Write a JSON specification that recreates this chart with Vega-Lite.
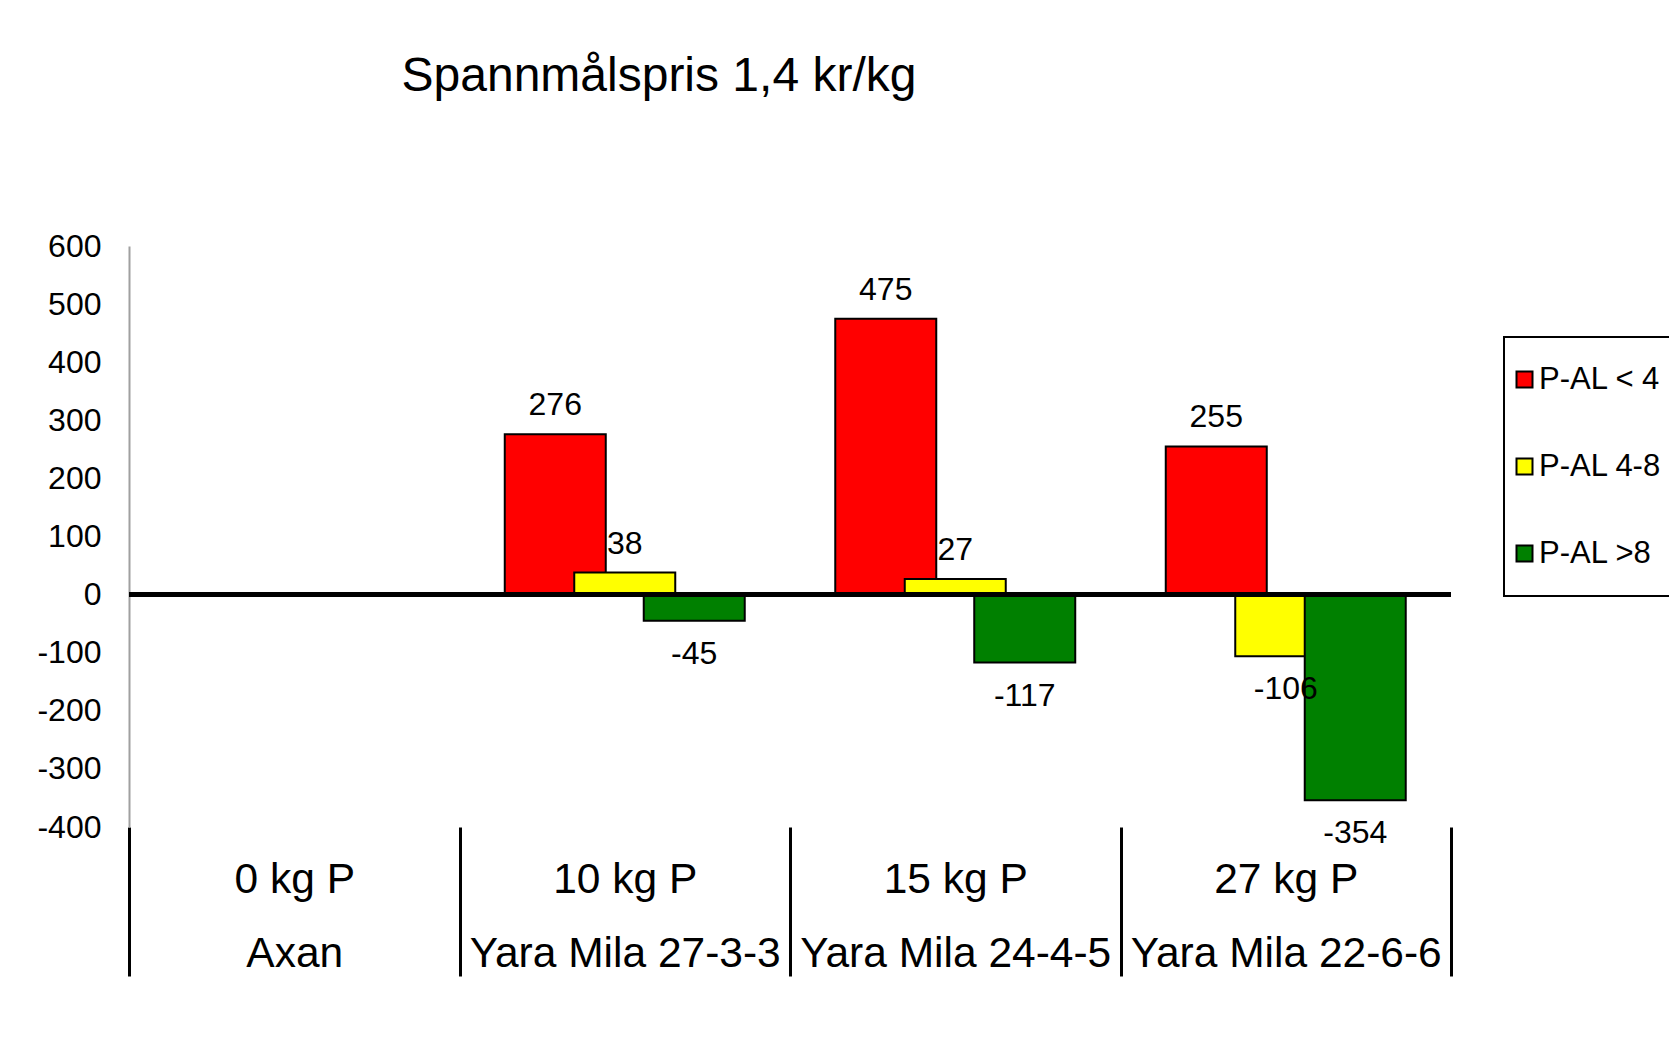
{
  "$schema": "https://vega.github.io/schema/vega-lite/v6.json",
  "width": 1322,
  "height": 581,
  "autosize": "none",
  "padding": {"left": 129, "top": 246, "right": 218, "bottom": 232},
  "background": "white",
  "title": {"text": "Spannmålspris 1,4 kr/kg", "font": "Liberation Sans", "fontSize": 48, "fontWeight": "normal", "color": "black", "anchor": "middle", "dx": -131, "offset": 129},
  "config": {"view": {"stroke": null}, "font": "Liberation Sans", "legend": {"strokeWidth": 2, "strokeColor": "black"}},
  "datasets": {"d": [
    {"cat": "10 kg P|Yara Mila 27-3-3", "s": "P-AL < 4", "v": 276},
    {"cat": "10 kg P|Yara Mila 27-3-3", "s": "P-AL 4-8", "v": 38},
    {"cat": "10 kg P|Yara Mila 27-3-3", "s": "P-AL >8", "v": -45},
    {"cat": "15 kg P|Yara Mila 24-4-5", "s": "P-AL < 4", "v": 475},
    {"cat": "15 kg P|Yara Mila 24-4-5", "s": "P-AL 4-8", "v": 27},
    {"cat": "15 kg P|Yara Mila 24-4-5", "s": "P-AL >8", "v": -117},
    {"cat": "27 kg P|Yara Mila 22-6-6", "s": "P-AL < 4", "v": 255},
    {"cat": "27 kg P|Yara Mila 22-6-6", "s": "P-AL 4-8", "v": -106},
    {"cat": "27 kg P|Yara Mila 22-6-6", "s": "P-AL >8", "v": -354}
  ]},
  "data": {"name": "d"},
  "layer": [
    {"mark": {"type": "bar", "width": 101, "stroke": "black", "strokeWidth": 2},
     "encoding": {
       "x": {"field": "cat", "type": "nominal", "sort": null,
         "scale": {"domain": ["0 kg P|Axan", "10 kg P|Yara Mila 27-3-3", "15 kg P|Yara Mila 24-4-5", "27 kg P|Yara Mila 22-6-6"], "paddingInner": 0, "paddingOuter": 0},
         "axis": {"title": null, "domain": false, "ticks": true, "tickBand": "extent", "tickSize": 149, "tickWidth": 3, "tickColor": "black",
           "labelFontSize": 42.5, "labelColor": "black", "labelAngle": 0, "labelPadding": -118, "labelLineHeight": 74,
           "labelExpr": "split(datum.label, '|')", "labelLimit": 500, "labelOverlap": false, "labelFlush": false}},
       "xOffset": {"field": "s", "type": "nominal", "scale": {"domain": ["P-AL < 4", "P-AL 4-8", "P-AL >8"], "paddingInner": 0, "paddingOuter": 0.878}},
       "y": {"field": "v", "type": "quantitative",
         "scale": {"domain": [-400, 600], "nice": false, "zero": false},
         "axis": {"title": null, "values": [-400, -300, -200, -100, 0, 100, 200, 300, 400, 500, 600], "ticks": false, "grid": false,
           "labelExpr": "datum.value + ''",
           "domainColor": "#a0a0a0", "domainWidth": 2, "labelFontSize": 32, "labelColor": "black", "labelPadding": 28}},
       "color": {"field": "s", "type": "nominal",
         "scale": {"domain": ["P-AL < 4", "P-AL 4-8", "P-AL >8"], "range": ["#ff0000", "#ffff00", "#008000"]},
         "legend": {"orient": "none", "legendX": 1375, "legendY": 91, "title": null,
           "symbolType": "square", "symbolSize": 256, "symbolOffset": -22,
           "symbolStrokeColor": "black", "symbolStrokeWidth": 2, "labelFontSize": 31, "labelColor": "black", "labelOffset": -1,
           "rowPadding": 55, "padding": 27, "strokeColor": "black", "labelLimit": 300, "fillColor": "white"}}
     }},
    {"mark": {"type": "rule", "color": "black", "strokeWidth": 4},
     "encoding": {"y": {"datum": 0, "type": "quantitative"}}},
    {"transform": [{"filter": "datum.v >= 0"}],
     "mark": {"type": "text", "fontSize": 32, "color": "black", "baseline": "alphabetic", "dy": -19},
     "encoding": {
       "x": {"field": "cat", "type": "nominal", "sort": null},
       "xOffset": {"field": "s", "type": "nominal"},
       "y": {"field": "v", "type": "quantitative"},
       "text": {"field": "v", "type": "nominal"}}},
    {"transform": [{"filter": "datum.v < 0"}],
     "mark": {"type": "text", "fontSize": 32, "color": "black", "baseline": "alphabetic", "dy": 43},
     "encoding": {
       "x": {"field": "cat", "type": "nominal", "sort": null},
       "xOffset": {"field": "s", "type": "nominal"},
       "y": {"field": "v", "type": "quantitative"},
       "text": {"field": "v", "type": "nominal"}}}
  ]
}
